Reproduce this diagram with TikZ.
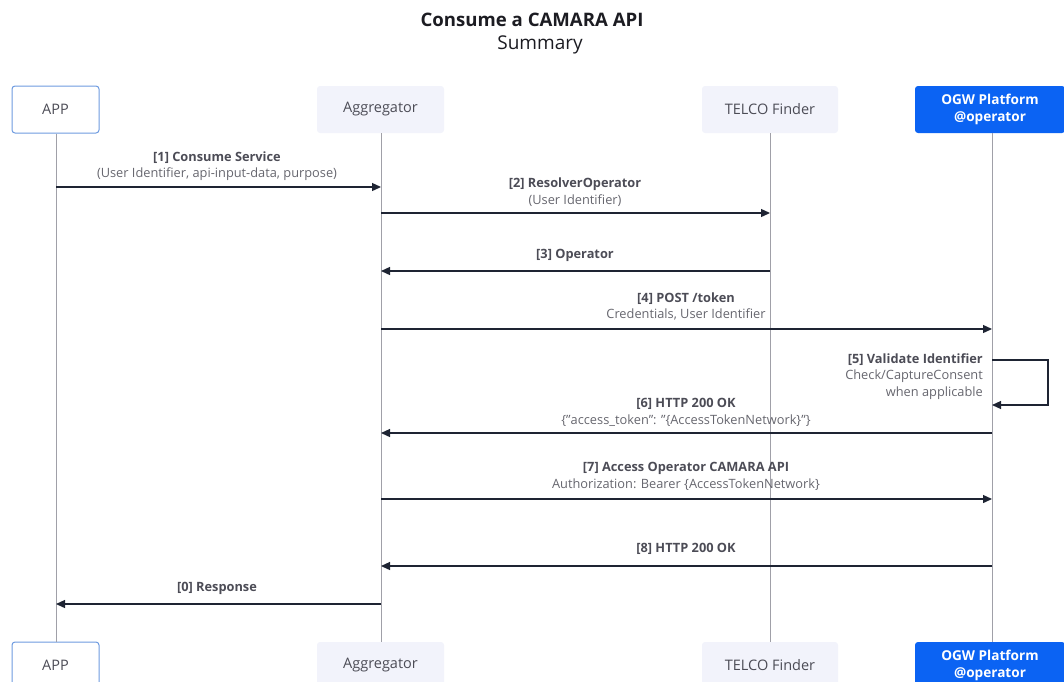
\documentclass[tikz,border=0pt]{standalone}
\usepackage{fontspec}
\setmainfont{Open Sans}
\usetikzlibrary{arrows.meta}
\definecolor{arrowc}{HTML}{1E2433}
\definecolor{lifec}{HTML}{A0A0A8}
\definecolor{labc}{HTML}{4C4C56}
\definecolor{subc}{HTML}{66666E}
\definecolor{boxfill}{HTML}{F2F3FB}
\definecolor{ogwblue}{HTML}{0B63F3}
\definecolor{appborder}{HTML}{6E9BE0}
\definecolor{titlec}{HTML}{1C1C22}
\tikzset{
  actor/.style={minimum height=47pt, inner sep=0pt, align=center, font=\fontsize{14.5}{16}\selectfont, text=labc, rounded corners=3pt},
  appbox/.style={actor, draw=appborder, line width=1pt, fill=white, minimum width=87pt},
  greybox/.style={actor, fill=boxfill},
  ogwbox/.style={actor, fill=ogwblue, text=white, font=\bfseries\fontsize{13.6}{16.5}\selectfont, minimum width=150pt},
  life/.style={draw=lifec, line width=0.9pt},
  msg/.style={draw=arrowc, line width=1.3pt, -{Triangle[length=9pt,width=8pt]}},
  lbl/.style={inner sep=0pt, align=center, text=labc, font=\fontsize{12.8}{16.5}\selectfont},
  lblr/.style={lbl, align=right},
  ttl/.style={inner sep=0pt, text=titlec, font=\fontsize{19}{22}\selectfont},
}
\newcommand{\subl}[1]{\textcolor{subc}{#1}}
\begin{document}
\begin{tikzpicture}[x=1pt, y=-1pt]
  \useasboundingbox (0,0) rectangle (1064,681);
  \clip (0,0) rectangle (1064,681);
  % title
  \node[ttl, font=\bfseries\fontsize{18.6}{22}\selectfont] (title) at (532,20) {Consume a CAMARA API};
  \node[ttl] (subtitle) at (540,45) {Summary};
  % actors top
  \node[appbox]  (appT) at (55.5,109.5) {APP};
  \node[greybox, minimum width=127pt] (aggT) at (380.5,109.5) {Aggregator};
  \node[greybox, minimum width=136pt] (telT) at (770,109.5) {TELCO Finder};
  \node[ogwbox]  (ogwT) at (990,109.5) {OGW Platform\\@operator};
  % actors bottom
  \node[appbox]  (appB) at (55.5,665.5) {APP};
  \node[greybox, minimum width=127pt] (aggB) at (380.5,665.5) {Aggregator};
  \node[greybox, minimum width=136pt] (telB) at (770,665.5) {TELCO Finder};
  \node[ogwbox]  (ogwB) at (990,665.5) {OGW Platform\\@operator};
  % lifeline x positions
  \coordinate (appX) at (56,0);
  \coordinate (aggX) at (381,0);
  \coordinate (telX) at (770,0);
  \coordinate (ogwX) at (992,0);
  \coordinate (loopX) at (1048,0);
  \draw[life] (appX |- appT.south) -- (appX |- appB.north);
  \draw[life] (aggX |- aggT.south) -- (aggX |- aggB.north);
  \draw[life] (telX |- telT.south) -- (telX |- telB.north);
  \draw[life] (ogwX |- ogwT.south) -- (ogwX |- ogwB.north);
  % message rows
  \coordinate (m1) at (0,187);
  \coordinate (m2) at (0,213);
  \coordinate (m3) at (0,271);
  \coordinate (m4) at (0,329);
  \coordinate (m5a) at (0,360);
  \coordinate (m5b) at (0,405);
  \coordinate (m6) at (0,433);
  \coordinate (m7) at (0,499);
  \coordinate (m8) at (0,566);
  \coordinate (m0) at (0,604);
  % messages
  \draw[msg] (appX |- m1) -- (aggX |- m1);
  \draw[msg] (aggX |- m2) -- (telX |- m2);
  \draw[msg] (telX |- m3) -- (aggX |- m3);
  \draw[msg] (aggX |- m4) -- (ogwX |- m4);
  \draw[msg] (ogwX |- m5a) -- (loopX |- m5a) -- (loopX |- m5b) -- (ogwX |- m5b);
  \draw[msg] (ogwX |- m6) -- (aggX |- m6);
  \draw[msg] (aggX |- m7) -- (ogwX |- m7);
  \draw[msg] (ogwX |- m8) -- (aggX |- m8);
  \draw[msg] (aggX |- m0) -- (appX |- m0);
  % labels
  \node[lbl] (l1) at (217,166) {\textbf{[1] Consume Service}\\\subl{(User Identifier, api-input-data, purpose)}};
  \node[lbl] (l2) at (575,192) {\textbf{[2] ResolverOperator}\\\subl{(User Identifier)}};
  \node[lbl] (l3) at (575,255) {\textbf{[3] Operator}};
  \node[lbl] (l4) at (686,306.5) {\textbf{[4] POST /token}\\\subl{Credentials, User Identifier}};
  \node[lblr, anchor=east] (l5) at (983,376.5) {\textbf{[5] Validate Identifier}\\\subl{Check/CaptureConsent}\\\subl{when applicable}};
  \node[lbl] (l6) at (686,412.5) {\textbf{[6] HTTP 200 OK}\\\subl{\{"access\_token": "\{AccessTokenNetwork\}"\}}};
  \node[lbl] (l7) at (686,476.5) {\textbf{[7] Access Operator CAMARA API}\\\subl{Authorization: Bearer \{AccessTokenNetwork\}}};
  \node[lbl] (l8) at (686,549) {\textbf{[8] HTTP 200 OK}};
  \node[lbl] (l0) at (217,588) {\textbf{[0] Response}};
\end{tikzpicture}
\end{document}
